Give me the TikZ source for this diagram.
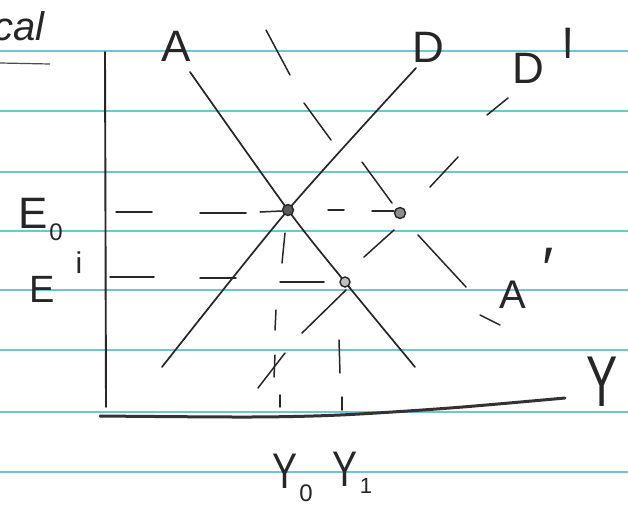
\documentclass[tikz,border=0pt]{standalone}
\usepackage{fontspec}
\setmainfont{Liberation Sans}
\begin{document}
\begin{tikzpicture}[x=1pt,y=-1pt,
  ruled/.style={draw={rgb,255:red,115;green,195;blue,212},line width=1.4pt},
  pen/.style={draw=black!85,line width=1.7pt,line cap=round,line join=round},
  dsh/.style={draw=black!85,line width=1.5pt,line cap=round},
  lbl/.style={inner sep=0pt,text=black!85},
  dotpt/.style={draw=black!85,line width=1.4pt}]
\useasboundingbox (0,0) rectangle (628,517);
\fill[white] (0,0) rectangle (628,517);
% ruled paper
\foreach \yy in {51,111,172,231,290,350,412,472}
  \draw[ruled] (0,\yy) -- (628,\yy);
% heading fragment
\node[lbl,anchor=east,font=\fontsize{40}{40}\selectfont\itshape] (head) at (45,26) {ical};
\draw[draw=black!70,line width=1.2pt] (0,63) -- (50,64);
% axes
\coordinate (vtop) at (105,52);
\coordinate (vbot) at (106,407);
\draw[pen,line width=1.9pt] (vtop) -- (vbot);
\draw[draw=black!80,line width=3pt,line cap=round] plot[smooth] coordinates {(100,416) (250,417) (340,415) (450,408) (565,398)};
% curves
\coordinate (E0pt) at (288,210);
\coordinate (E1pt) at (345,282);
\coordinate (Apt) at (400,213);
\draw[pen] plot[smooth,tension=0.5] coordinates {(190,72) (288,210) (345,282) (415,367)};
\draw[pen] plot[smooth,tension=0.5] coordinates {(162,367) (288,210) (416,68)};
% A' dashed
\draw[dsh] (266,30) -- (290,75);
\draw[dsh] (304,103) -- (331,140);
\draw[dsh] (362,162) -- (392,203);
\draw[dsh] (418,235) -- (466,287);
\draw[dsh] (480,315) -- (500,325);
% D' dashed
\draw[dsh] (258,388) -- (285,353);
\draw[dsh] (302,333) -- (346,290);
\draw[dsh] (364,257) -- (394,230);
\draw[dsh] (430,187) -- (458,157);
\draw[dsh] (487,115) -- (508,98);
% E0 horizontal dashes
\draw[dsh] (116,212) -- (152,212);
\draw[dsh] (200,213) -- (246,213);
\draw[dsh] (260,212) -- (282,211);
\draw[dsh] (328,210) -- (344,210);
\draw[dsh] (372,211) -- (394,211);
% E' horizontal dashes
\draw[dsh] (110,277) -- (154,277);
\draw[dsh] (200,278) -- (236,278);
\draw[dsh] (280,282) -- (324,282);
% Y0 vertical dashes
\draw[dsh] (285,233) -- (282,263);
\draw[dsh] (276,310) -- (275,330);
\draw[dsh] (275,355) -- (274,377);
\draw[dsh] (280,395) -- (280,407);
% Y1 vertical dashes
\draw[dsh] (339,340) -- (340,373);
\draw[dsh] (342,397) -- (342,410);
% dots
\filldraw[dotpt,fill=black!65] (E0pt) circle (5.5);
\filldraw[dotpt,fill=black!25] (E1pt) circle (5);
\filldraw[dotpt,fill=black!45] (Apt) circle (5.5);
% labels
\node[lbl,font=\fontsize{44}{44}\selectfont] (lA) at (176,46) {A};
\node[lbl,font=\fontsize{44}{44}\selectfont] (lD) at (428,47) {D};
\node[lbl,font=\fontsize{44}{44}\selectfont] (lDp) at (528,68) {D};
\node[lbl,anchor=north,font=\fontsize{140}{140}\selectfont,xscale=0.35,transform shape] (lDpp) at (568,28) {\textquotesingle};
\node[lbl,font=\fontsize{40}{40}\selectfont] (lAp) at (513,295) {A};
\node[lbl,anchor=north,font=\fontsize{60}{60}\selectfont] (lApp) at (548,248) {′};
\node[lbl,font=\fontsize{72}{72}\selectfont,xscale=0.65,transform shape] (lY) at (602,382) {Y};
\node[lbl,font=\fontsize{44}{44}\selectfont] (lE0) at (33,213) {E};
\node[lbl,font=\fontsize{24}{24}\selectfont] (lE0s) at (56,232) {0};
\node[lbl,font=\fontsize{38}{38}\selectfont] (lE1) at (42,289) {E};
\node[lbl,font=\fontsize{30}{30}\selectfont] (lE1s) at (79,263) {i};
\node[lbl,font=\fontsize{50}{50}\selectfont,xscale=0.75,transform shape] (lY0) at (285,471) {Y};
\node[lbl,font=\fontsize{24}{24}\selectfont] (lY0s) at (306,493) {0};
\node[lbl,font=\fontsize{50}{50}\selectfont,xscale=0.75,transform shape] (lY1) at (345,469) {Y};
\node[lbl,font=\fontsize{22}{22}\selectfont] (lY1s) at (366,486) {1};
\end{tikzpicture}
\end{document}
